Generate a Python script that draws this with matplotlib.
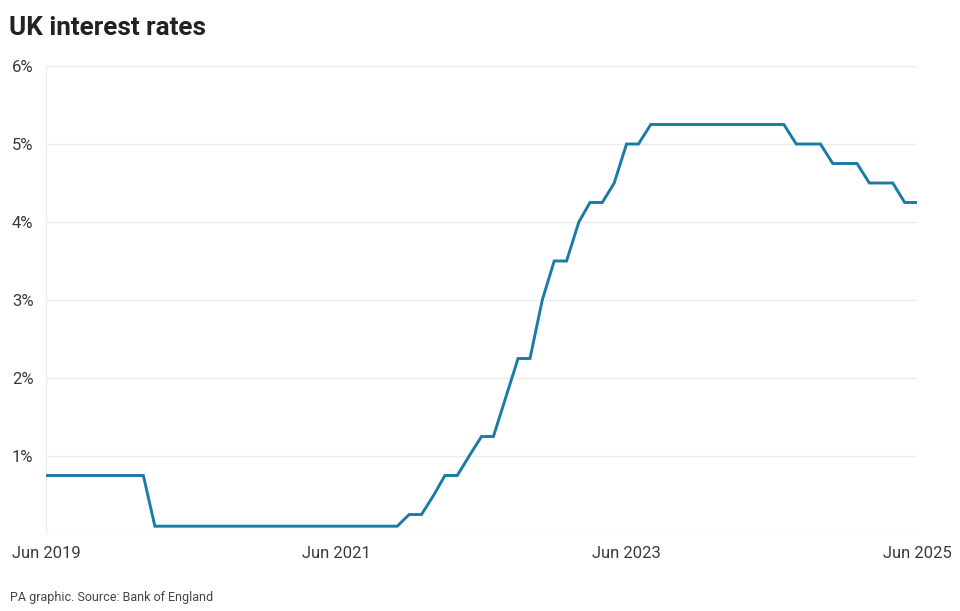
import matplotlib
matplotlib.use("Agg")
import matplotlib.pyplot as plt
import pandas as pd

plt.rcParams['font.family'] = ['Roboto', 'DejaVu Sans']

# Monthly UK Bank Rate (%), Jun 2019 .. Jun 2025
months = pd.date_range("2019-06-01", "2025-06-01", freq="MS")
rates = (
    [0.75] * 9            # Jun 2019 - Feb 2020
    + [0.1] * 21          # Mar 2020 - Nov 2021
    + [0.25, 0.25]        # Dec 2021, Jan 2022
    + [0.5, 0.75, 0.75, 1.0, 1.25, 1.25, 1.75, 2.25, 2.25, 3.0, 3.5]   # Feb - Dec 2022
    + [3.5, 4.0, 4.25, 4.25, 4.5, 5.0, 5.0]                            # Jan - Jul 2023
    + [5.25] * 12         # Aug 2023 - Jul 2024
    + [5.0, 5.0, 5.0]     # Aug - Oct 2024
    + [4.75, 4.75, 4.75]  # Nov 2024 - Jan 2025
    + [4.5, 4.5, 4.5]     # Feb - Apr 2025
    + [4.25, 4.25]        # May - Jun 2025
)
ytick_vals = [1, 2, 3, 4, 5, 6]
ytick_labels = ["1%", "2%", "3%", "4%", "5%", "6%"]
xtick_dates = pd.to_datetime(["2019-06-01", "2021-06-01", "2023-06-01", "2025-06-01"])
xtick_labels = ["Jun 2019", "Jun 2021", "Jun 2023", "Jun 2025"]

W, H = 960, 611
fig = plt.figure(figsize=(W / 100, H / 100), dpi=100)
ax = fig.add_axes([46 / W, 1 - 534 / H, (917 - 46) / W, (534 - 66) / H])

ax.plot(months, rates, color="#1b7ba7", lw=2.1, solid_joinstyle="miter", zorder=3)

ax.set_xlim(months[0], months[-1])
ax.set_ylim(0, 6)
grid_c = "#ebebeb"
for v in [0] + ytick_vals:
    ax.axhline(v, color=grid_c, lw=1, zorder=1)
ax.axvline(months[0], color=grid_c, lw=1, zorder=1)

ax.set_yticks(ytick_vals)
ax.set_yticklabels(ytick_labels)
ax.set_xticks(xtick_dates)
ax.set_xticklabels(xtick_labels)
ax.tick_params(axis="both", length=0, labelsize=12, labelcolor="#3a3a3a")
ax.tick_params(axis="y", pad=9)
ax.tick_params(axis="x", pad=9)
for s in ax.spines.values():
    s.set_visible(False)

fig.text(9 / W, 1 - 28 / H, "UK interest rates", fontsize=18.8, fontweight="bold",
         color="#222222", va="center", ha="left")
fig.text(10 / W, 1 - 597 / H, "PA graphic. Source: Bank of England", fontsize=9,
         color="#444444", va="center", ha="left")

fig.savefig("out.png", dpi=100)
